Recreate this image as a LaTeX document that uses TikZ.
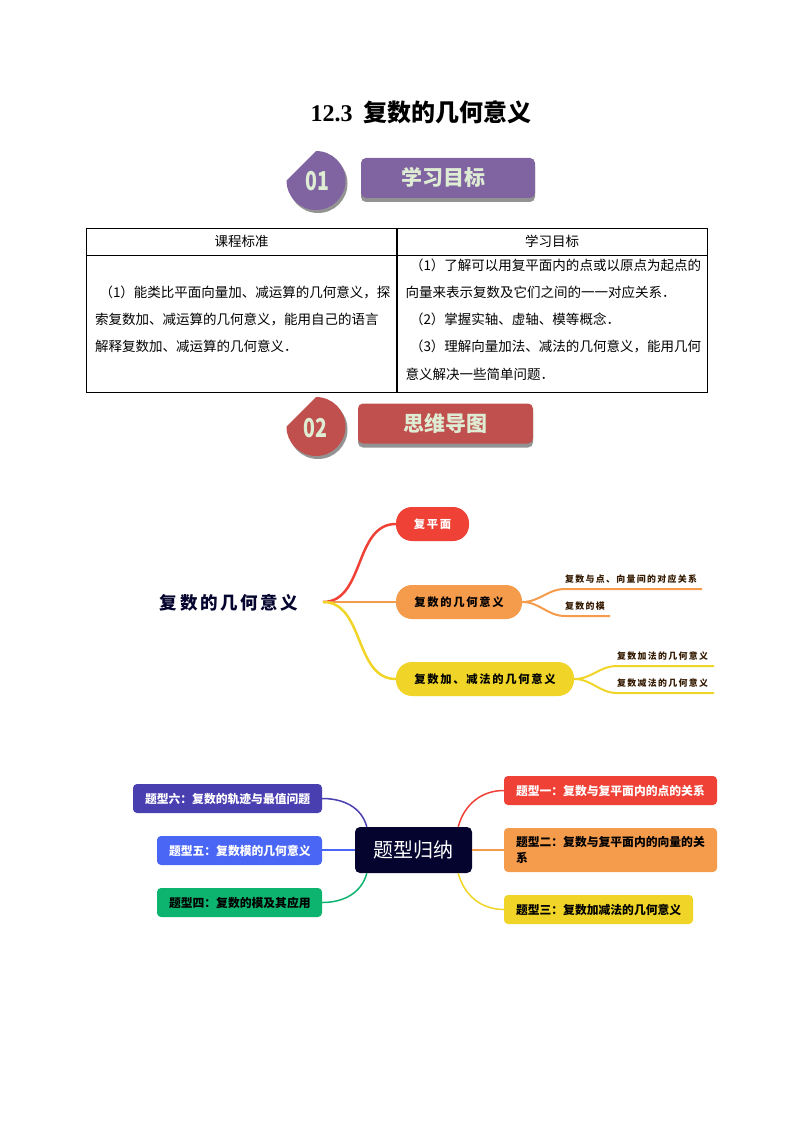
\documentclass[tikz,border=0pt]{standalone}
\usepackage{fontspec}
\setmainfont{Noto Sans CJK SC}
\newfontfamily\titlenum{Liberation Serif}
\newfontfamily\mapfont[LetterSpace=15]{Noto Sans CJK SC}
\usetikzlibrary{shadows}
\definecolor{mapred}{HTML}{EF4136}
\definecolor{maporange}{HTML}{F59B4C}
\definecolor{mapyellow}{HTML}{F0D528}
\definecolor{mapnavy}{HTML}{04042E}
\definecolor{mapviolet}{HTML}{4A3FB0}
\definecolor{mapblue}{HTML}{4A66F5}
\definecolor{mapgreen}{HTML}{0DB46F}
\definecolor{badgepurple}{HTML}{8064A2}
\definecolor{badgered}{HTML}{C0504D}
\definecolor{badgetext}{HTML}{DFECD4}

\begin{document}
\begin{tikzpicture}[x=1pt,y=-1pt]
	\tikzstyle{banner}=[rounded corners=5pt,minimum height=40pt,inner sep=0pt,text=badgetext,font=\fontsize{21}{24}\selectfont\bfseries,drop shadow={shadow xshift=0pt,shadow yshift=-4pt,fill=gray!85,opacity=1}]
	\tikzstyle{badgenum}=[text=badgetext,inner sep=0pt,font=\fontsize{26}{28}\selectfont\bfseries]
	\tikzstyle{cell}=[draw,line width=0.7pt,inner xsep=9pt,inner ysep=0pt,align=left,font=\fontsize{13.5}{27.2}\selectfont]
	\tikzstyle{branch}=[rounded corners=16pt,minimum height=34pt,inner sep=0pt,font=\mapfont\fontsize{11.3}{13}\selectfont\bfseries]
	\tikzstyle{leaf}=[anchor=south west,inner xsep=0pt,inner ysep=5pt,text=black!80!orange,font=\mapfont\fontsize{8.9}{10}\selectfont\bfseries]
	\tikzstyle{kind}=[rounded corners=4pt,inner xsep=12pt,inner ysep=0pt,align=left,font=\fontsize{11.8}{16}\selectfont\bfseries]
	\useasboundingbox (0,0) rectangle (793,1123);

	\node[inner sep=0pt,font=\fontsize{24}{28}\selectfont\bfseries] (title) at (421,112) {{\titlenum 12.3}\hspace{11pt}复数的几何意义};

	% badge 01
	\fill[gray!85] (318,154) arc (-90:180:29.5) -- cycle;
	\fill[badgepurple] (316,151) arc (-90:180:29.5) -- cycle;
	\node[badgenum] (numa) at (317,181) {\scalebox{0.75}[1]{01}};
	\node[banner,fill=badgepurple,minimum width=174pt] (goal) at (448,178) {\hspace{-10pt}\raisebox{3pt}{学习目标}};

	% table
	\node[cell,minimum width=311pt,minimum height=27pt,align=center] (heada) at (241.5,241.5) {课程标准};
	\node[cell,minimum width=311pt,minimum height=27pt,align=center] (headb) at (552,241.5) {学习目标};
	\node[cell,text width=293pt,minimum height=137pt] (cella) at (241.5,323.5) {\ （1）能类比平面向量加、减运算的几何意义，探\\索复数加、减运算的几何意义，能用自己的语言\\解释复数加、减运算的几何意义．\rule[-9pt]{0pt}{9pt}};
	\node[cell,text width=293pt,minimum height=137pt] (cellb) at (552,323.5) {\ （1）了解可以用复平面内的点或以原点为起点的\\向量来表示复数及它们之间的一一对应关系．\\\ （2）掌握实轴、虚轴、模等概念．\\\ （3）理解向量加法、减法的几何意义，能用几何\\意义解决一些简单问题．\rule[-9pt]{0pt}{9pt}};

	% badge 02
	\fill[gray!85] (318,400) arc (-90:180:29.5) -- cycle;
	\fill[badgered] (316,397) arc (-90:180:29.5) -- cycle;
	\node[badgenum] (numb) at (315,428) {\scalebox{0.75}[1]{02}};
	\node[banner,fill=badgered,minimum width=175pt] (mind) at (445.5,423.5) {\raisebox{1pt}{思维导图}};

	% first map
	\node[inner sep=0pt,text=mapnavy,font=\mapfont\fontsize{17.5}{20}\selectfont\bfseries] (root) at (229,603) {复数的几何意义};
	\coordinate (hub) at (323,602);
	\node[branch,fill=mapred,text=white,minimum width=73pt] (plane) at (432.5,524) {复平面};
	\node[branch,fill=maporange,minimum width=126pt] (meaning) at (459,602) {复数的几何意义};
	\node[branch,fill=mapyellow,minimum width=178pt] (addsub) at (485,679) {复数加、减法的几何意义};

	\draw[mapred,line width=2.5pt] (hub) to[out=0,in=180] (plane.west);
	\draw[maporange,line width=2.5pt] (hub) -- (meaning.west);
	\draw[mapyellow,line width=2.5pt] (hub) to[out=0,in=180] (addsub.west);

	\coordinate (pointa) at (565,589);
	\coordinate (pointb) at (702,589);
	\coordinate (modea) at (565,616);
	\coordinate (modeb) at (610,616);
	\coordinate (adda) at (617,666);
	\coordinate (addb) at (714,666);
	\coordinate (suba) at (617,693);
	\coordinate (subb) at (714,693);
	\node[leaf] (pointtext) at (pointa) {复数与点、向量间的对应关系};
	\node[leaf] (modetext) at (modea) {复数的模};
	\node[leaf] (addtext) at (adda) {复数加法的几何意义};
	\node[leaf] (subtext) at (suba) {复数减法的几何意义};
	\draw[maporange,line width=2pt] (meaning.east) to[out=0,in=180] (pointa) -- (pointb);
	\draw[maporange,line width=2pt] (meaning.east) to[out=0,in=180] (modea) -- (modeb);
	\draw[mapyellow,line width=2pt] (addsub.east) to[out=0,in=180] (adda) -- (addb);
	\draw[mapyellow,line width=2pt] (addsub.east) to[out=0,in=180] (suba) -- (subb);

	% second map
	\node[fill=mapnavy,text=white,rounded corners=5pt,minimum width=117pt,minimum height=46pt,inner sep=0pt,font=\fontsize{20}{24}\selectfont] (sum) at (413.5,850) {题型归纳};
	\node[kind,fill=mapred,text=white,text width=189pt,minimum height=29pt] (one) at (610.5,790.5) {题型一：复数与复平面内的点的关系};
	\node[kind,fill=maporange,text=black,text width=189pt,minimum height=44pt] (two) at (610.5,850) {题型二：复数与复平面内的向量的关\\系};
	\node[kind,fill=mapyellow,text=black,text width=165pt,minimum height=29pt] (three) at (598.5,909.5) {题型三：复数加减法的几何意义};
	\node[kind,fill=mapviolet,text=white,text width=165pt,minimum height=29pt] (six) at (227.5,798.5) {题型六：复数的轨迹与最值问题};
	\node[kind,fill=mapblue,text=white,text width=141pt,minimum height=29pt] (five) at (239.5,850.5) {题型五：复数模的几何意义};
	\node[kind,fill=mapgreen,text=black,text width=141pt,minimum height=29pt] (four) at (239.5,902.5) {题型四：复数的模及其应用};

	\draw[mapred,line width=1.5pt] ([xshift=-14pt]sum.north east) to[out=75,in=180] (one.west);
	\draw[maporange,line width=1.5pt] (sum.east) -- (sum.east -| two.west);
	\draw[mapyellow,line width=1.5pt] ([xshift=-14pt]sum.south east) to[out=-75,in=180] (three.west);
	\draw[mapviolet,line width=1.5pt] ([xshift=12pt]sum.north west) to[out=105,in=0] (six.east);
	\draw[mapblue,line width=1.5pt] (sum.west) -- (sum.west -| five.east);
	\draw[mapgreen,line width=1.5pt] ([xshift=12pt]sum.south west) to[out=-105,in=0] (four.east);
\end{tikzpicture}
\end{document}
